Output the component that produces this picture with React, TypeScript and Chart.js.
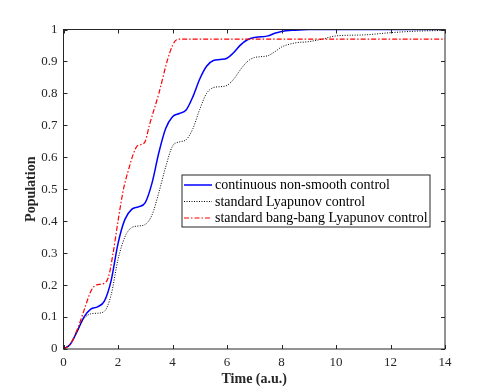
import React, { useEffect, useRef } from "react";
import { Chart, registerables } from "chart.js";

Chart.register(...registerables);

const blueT = [0, 0.25, 0.5, 0.75, 1.0, 1.25, 1.5, 1.75, 2.0, 2.25, 2.5, 2.75, 3.0, 3.25, 3.5, 3.75, 4.0, 4.25, 4.5, 4.75, 5.0, 5.25, 5.5, 5.75, 6.0, 6.25, 6.5, 6.75, 7.0, 7.25, 7.5, 7.75, 8.0, 8.5, 9, 10, 11, 12, 14];
const blueY = [0, 0.015, 0.055, 0.1, 0.125, 0.132, 0.15, 0.215, 0.33, 0.405, 0.437, 0.445, 0.458, 0.52, 0.615, 0.69, 0.727, 0.737, 0.748, 0.79, 0.845, 0.885, 0.903, 0.906, 0.91, 0.928, 0.952, 0.968, 0.975, 0.977, 0.98, 0.988, 0.994, 0.998, 1, 1, 1, 1, 1];

const blackT = [0, 0.25, 0.5, 0.75, 1.0, 1.25, 1.5, 1.75, 2.0, 2.25, 2.5, 2.75, 3.0, 3.25, 3.5, 3.75, 4.0, 4.25, 4.5, 4.75, 5.0, 5.25, 5.5, 5.75, 6.0, 6.25, 6.5, 6.75, 7.0, 7.25, 7.5, 7.75, 8.0, 8.5, 9.0, 9.5, 10.0, 11, 12, 13, 14];
const blackY = [0, 0.015, 0.055, 0.095, 0.11, 0.112, 0.118, 0.17, 0.28, 0.35, 0.38, 0.385, 0.39, 0.42, 0.49, 0.57, 0.635, 0.648, 0.655, 0.69, 0.75, 0.8, 0.818, 0.821, 0.825, 0.845, 0.875, 0.9, 0.912, 0.915, 0.918, 0.93, 0.945, 0.958, 0.962, 0.97, 0.98, 0.983, 0.99, 0.995, 0.997];

const redT = [0, 0.25, 0.5, 0.75, 1.0, 1.15, 1.3, 1.5, 1.65, 1.82, 2.0, 2.2, 2.4, 2.56, 2.7, 2.85, 3.0, 3.15, 3.5, 3.8, 4.0, 4.15, 4.3, 6, 8, 10, 12, 14];
const redY = [0, 0.015, 0.06, 0.12, 0.18, 0.198, 0.202, 0.206, 0.225, 0.3, 0.4, 0.5, 0.565, 0.61, 0.635, 0.64, 0.65, 0.7, 0.8, 0.9, 0.95, 0.968, 0.97, 0.97, 0.97, 0.97, 0.97, 0.97];

const seriesLabels = [
  "continuous non-smooth control",
  "standard Lyapunov control",
  "standard bang-bang Lyapunov control",
];

const xTicks = [0, 2, 4, 6, 8, 10, 12, 14];
const yTicks = [0, 0.1, 0.2, 0.3, 0.4, 0.5, 0.6, 0.7, 0.8, 0.9, 1];

const AXIS = "#262626";
const FONT = "'Liberation Serif', 'DejaVu Serif', serif";

const toPts = (t: number[], y: number[]) => t.map((v, i) => ({ x: v, y: y[i] }));

const boxPlugin = {
  id: "matlabBox",
  afterDraw(chart: any) {
    const { ctx, chartArea: a, scales } = chart;
    ctx.save();
    ctx.strokeStyle = AXIS;
    ctx.lineWidth = 1;
    ctx.strokeRect(a.left, a.top, a.right - a.left, a.bottom - a.top);
    const L = 4;
    ctx.beginPath();
    xTicks.forEach((v) => {
      const px = Math.round(scales.x.getPixelForValue(v)) + 0.5;
      ctx.moveTo(px, a.bottom);
      ctx.lineTo(px, a.bottom - L);
      ctx.moveTo(px, a.top);
      ctx.lineTo(px, a.top + L);
    });
    yTicks.forEach((v) => {
      const py = Math.round(scales.y.getPixelForValue(v)) + 0.5;
      ctx.moveTo(a.left, py);
      ctx.lineTo(a.left + L, py);
      ctx.moveTo(a.right, py);
      ctx.lineTo(a.right - L, py);
    });
    ctx.stroke();

    // legend
    const bx = a.left + 118.5;
    const by = a.top + 145.5;
    const bw = 248;
    const bh = 52;
    ctx.fillStyle = "#ffffff";
    ctx.fillRect(bx, by, bw, bh);
    ctx.strokeStyle = AXIS;
    ctx.strokeRect(bx, by, bw, bh);
    const styles = [
      { color: "#0000ff", dash: [] as number[], w: 1.5 },
      { color: "#000000", dash: [1, 1.5], w: 1 },
      { color: "#ff0000", dash: [5, 2, 1.5, 2], w: 1.2 },
    ];
    ctx.font = "14px " + FONT;
    ctx.textBaseline = "middle";
    seriesLabels.forEach((lab, i) => {
      const yy = by + 10 + i * 16.5;
      const s = styles[i];
      ctx.beginPath();
      ctx.setLineDash(s.dash);
      ctx.strokeStyle = s.color;
      ctx.lineWidth = s.w;
      ctx.moveTo(bx + 2, yy);
      ctx.lineTo(bx + 30, yy);
      ctx.stroke();
      ctx.setLineDash([]);
      ctx.fillStyle = "#000000";
      ctx.fillText(lab, bx + 33, yy + 0.5);
    });
    ctx.restore();
  },
};

export default function App() {
  const ref = useRef<HTMLCanvasElement | null>(null);
  useEffect(() => {
    if (!ref.current) return;
    const chart = new Chart(ref.current, {
      type: "line",
      data: {
        datasets: [
          {
            label: seriesLabels[2],
            data: toPts(redT, redY),
            borderColor: "#ff0000",
            borderWidth: 1.2,
            borderDash: [5, 2, 1.5, 2],
            pointRadius: 0,
            cubicInterpolationMode: "monotone",
            fill: false,
          },
          {
            label: seriesLabels[1],
            data: toPts(blackT, blackY),
            borderColor: "#000000",
            borderWidth: 1,
            borderDash: [1, 1.5],
            pointRadius: 0,
            cubicInterpolationMode: "monotone",
            fill: false,
          },
          {
            label: seriesLabels[0],
            data: toPts(blueT, blueY),
            borderColor: "#0000ff",
            borderWidth: 1.5,
            pointRadius: 0,
            cubicInterpolationMode: "monotone",
            fill: false,
          },
        ],
      },
      options: {
        responsive: false,
        animation: false,
        devicePixelRatio: 1,
        layout: { padding: { left: 0, top: 29.5, right: 46, bottom: 0 } },
        plugins: { legend: { display: false }, tooltip: { enabled: false } },
        scales: {
          x: {
            type: "linear",
            min: 0,
            max: 14,
            afterFit: (s: any) => { s.height = 43; },
            afterBuildTicks: (s: any) => { s.ticks = xTicks.map((v) => ({ value: v })); },
            grid: { display: false, drawTicks: false },
            border: { display: false },
            ticks: { color: AXIS, font: { family: FONT, size: 13 }, padding: 6, maxRotation: 0, autoSkip: false },
            title: { display: true, text: "Time (a.u.)", color: AXIS, font: { family: FONT, size: 14, weight: "bold" }, padding: { top: 0, bottom: 4.6 } },
          },
          y: {
            type: "linear",
            min: 0,
            max: 1,
            afterFit: (s: any) => { s.width = 63.5; },
            afterBuildTicks: (s: any) => { s.ticks = yTicks.map((v) => ({ value: v })); },
            grid: { display: false, drawTicks: false },
            border: { display: false },
            ticks: { color: AXIS, font: { family: FONT, size: 13 }, padding: 6, autoSkip: false, callback: (v: any) => String(Math.round(Number(v) * 10) / 10) },
            title: { display: true, text: "Population", color: AXIS, font: { family: FONT, size: 14, weight: "bold" }, padding: { top: 22.6, bottom: 0 } },
          },
        },
      },
      plugins: [boxPlugin],
    });
    return () => chart.destroy();
  }, []);
  return (
    <div style={{ position: "fixed", left: 0, top: 0, width: 491, height: 392, background: "#fff" }}>
      <canvas ref={ref} width={491} height={392} />
    </div>
  );
}
